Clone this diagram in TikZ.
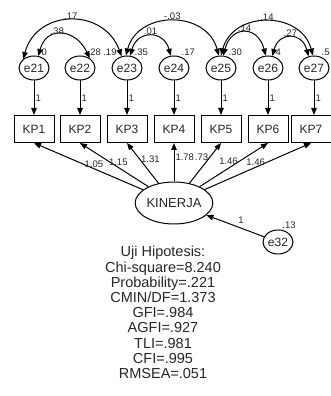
\documentclass[tikz,border=0pt]{standalone}
\usepackage{fontspec}
\setmainfont{Liberation Sans}
\usetikzlibrary{shapes.geometric,arrows.meta}
\tikzset{
  errnode/.style={draw,ellipse,line width=1pt,minimum width=30pt,minimum height=24pt,inner sep=0pt,font=\fontsize{12}{12}\selectfont},
  kpbox/.style={draw,rectangle,line width=1pt,minimum width=40pt,minimum height=27pt,inner sep=0pt,font=\fontsize{12}{12}\selectfont},
  latent/.style={draw,ellipse,line width=1pt,minimum width=74pt,minimum height=42pt,inner sep=0pt,font=\fontsize{13}{13}\selectfont},
  coef/.style={font=\fontsize{9.5}{9.5}\selectfont,inner sep=1pt},
  reg/.style={line width=1pt,-{Triangle[length=7pt,width=5.5pt]}},
  cov/.style={line width=1pt,{Triangle[length=7pt,width=5.5pt]}-{Triangle[length=7pt,width=5.5pt]}},
}
\begin{document}
\begin{tikzpicture}[x=1pt,y=1pt,text=black!85]
    \useasboundingbox (0,0) rectangle (331,396);
    % Errores
    \node[errnode,label={[coef]60:0}] (e21) at (34,328) {e21};
    \node[errnode,label={[coef,name=v22]60:.28}] (e22) at (80,328) {e22};
    \node[coef,anchor=west] (v19) at (v22.east) {.19};
    \node[errnode,label={[coef]60:.35}] (e23) at (127,328) {e23};
    \node[errnode,label={[coef]60:.17}] (e24) at (174,328) {e24};
    \node[errnode,label={[coef]60:.30}] (e25) at (221,328) {e25};
    \node[errnode,label={[coef]60:4}] (e26) at (268,328) {e26};
    \node[errnode,label={[coef]60:.5}] (e27) at (314,328) {e27};
    % Indicadores
    \node[kpbox] (kp1) at (34,267) {KP1};
    \node[kpbox] (kp2) at (80,267) {KP2};
    \node[kpbox] (kp3) at (127,267) {KP3};
    \node[kpbox] (kp4) at (174,267) {KP4};
    \node[kpbox] (kp5) at (221,267) {KP5};
    \node[kpbox] (kp6) at (268,267) {KP6};
    \node[kpbox] (kp7) at (311,267) {KP7};
    % Variable latente
    \node[latent] (kin) at (174,193) {KINERJA};
    \node[errnode,label={[coef]75:.13}] (e32) at (278,154) {e32};
    % Cargas de los errores
    \draw[reg] (e21) -- node[coef,right] {1} (kp1);
    \draw[reg] (e22) -- node[coef,right] {1} (kp2);
    \draw[reg] (e23) -- node[coef,right] {1} (kp3);
    \draw[reg] (e24) -- node[coef,right] {1} (kp4);
    \draw[reg] (e25) -- node[coef,right] {1} (kp5);
    \draw[reg] (e26) -- node[coef,right] {1} (kp6);
    \draw[reg] (e27.south) -- node[coef,right] {1} (kp7.north -| e27);
    % Cargas factoriales
    \draw[reg] (kin) -- node[coef,pos=0.45,above] {1.05} (kp1.south);
    \draw[reg] (kin) -- node[coef,pos=0.44,above] {1.15} (kp2.south);
    \draw[reg] (kin) -- node[coef,pos=0.6,right] {1.31} (kp3.south);
    \draw[reg] (kin) -- node[coef,pos=0.62,right] {1.78} (kp4);
    \draw[reg] (kin) -- node[coef,pos=0.64,left] {.73} (kp5.south);
    \draw[reg] (kin) -- node[coef,pos=0.58,left] {1.46} (kp6.south);
    \draw[reg] (kin) -- node[coef,pos=0.58,left] {1.46} (kp7.south);
    \draw[reg] (e32) -- node[coef,pos=0.4,above=3pt] {1} (kin);
    % Covarianzas
    \draw[cov] (e21.140) to[out=75,in=110,looseness=1.35] node[coef,above] {.17} (e23.115);
    \draw[cov] (e21.70) to[out=75,in=115,looseness=1.6] node[coef,pos=0.42,above=-1pt] {.38} (e22.45);
    \draw[cov] (e23.75) to[out=75,in=105,looseness=1.7] node[coef,above] {.01} (e24.105);
    \draw[cov] (e23.95) to[out=75,in=105,looseness=1.3] node[coef,above] {-.03} (e25.100);
    \draw[cov] (e25.80) to[out=75,in=105,looseness=1.9] node[coef,above] {.14} (e26.100);
    \draw[cov] (e25.90) to[out=75,in=105,looseness=1.3] node[coef,above] {.14} (e27.95);
    \draw[cov] (e26.70) to[out=75,in=105,looseness=1.8] node[coef,above] {.27} (e27.115);
    % Indices de ajuste
    \node[align=center,inner sep=0pt,font=\fontsize{14.5}{15.2}\selectfont] (uji) at (163,83.5)
      {Uji Hipotesis:\\Chi-square=8.240\\Probability=.221\\CMIN/DF=1.373\\GFI=.984\\AGFI=.927\\TLI=.981\\CFI=.995\\RMSEA=.051};
\end{tikzpicture}
\end{document}
